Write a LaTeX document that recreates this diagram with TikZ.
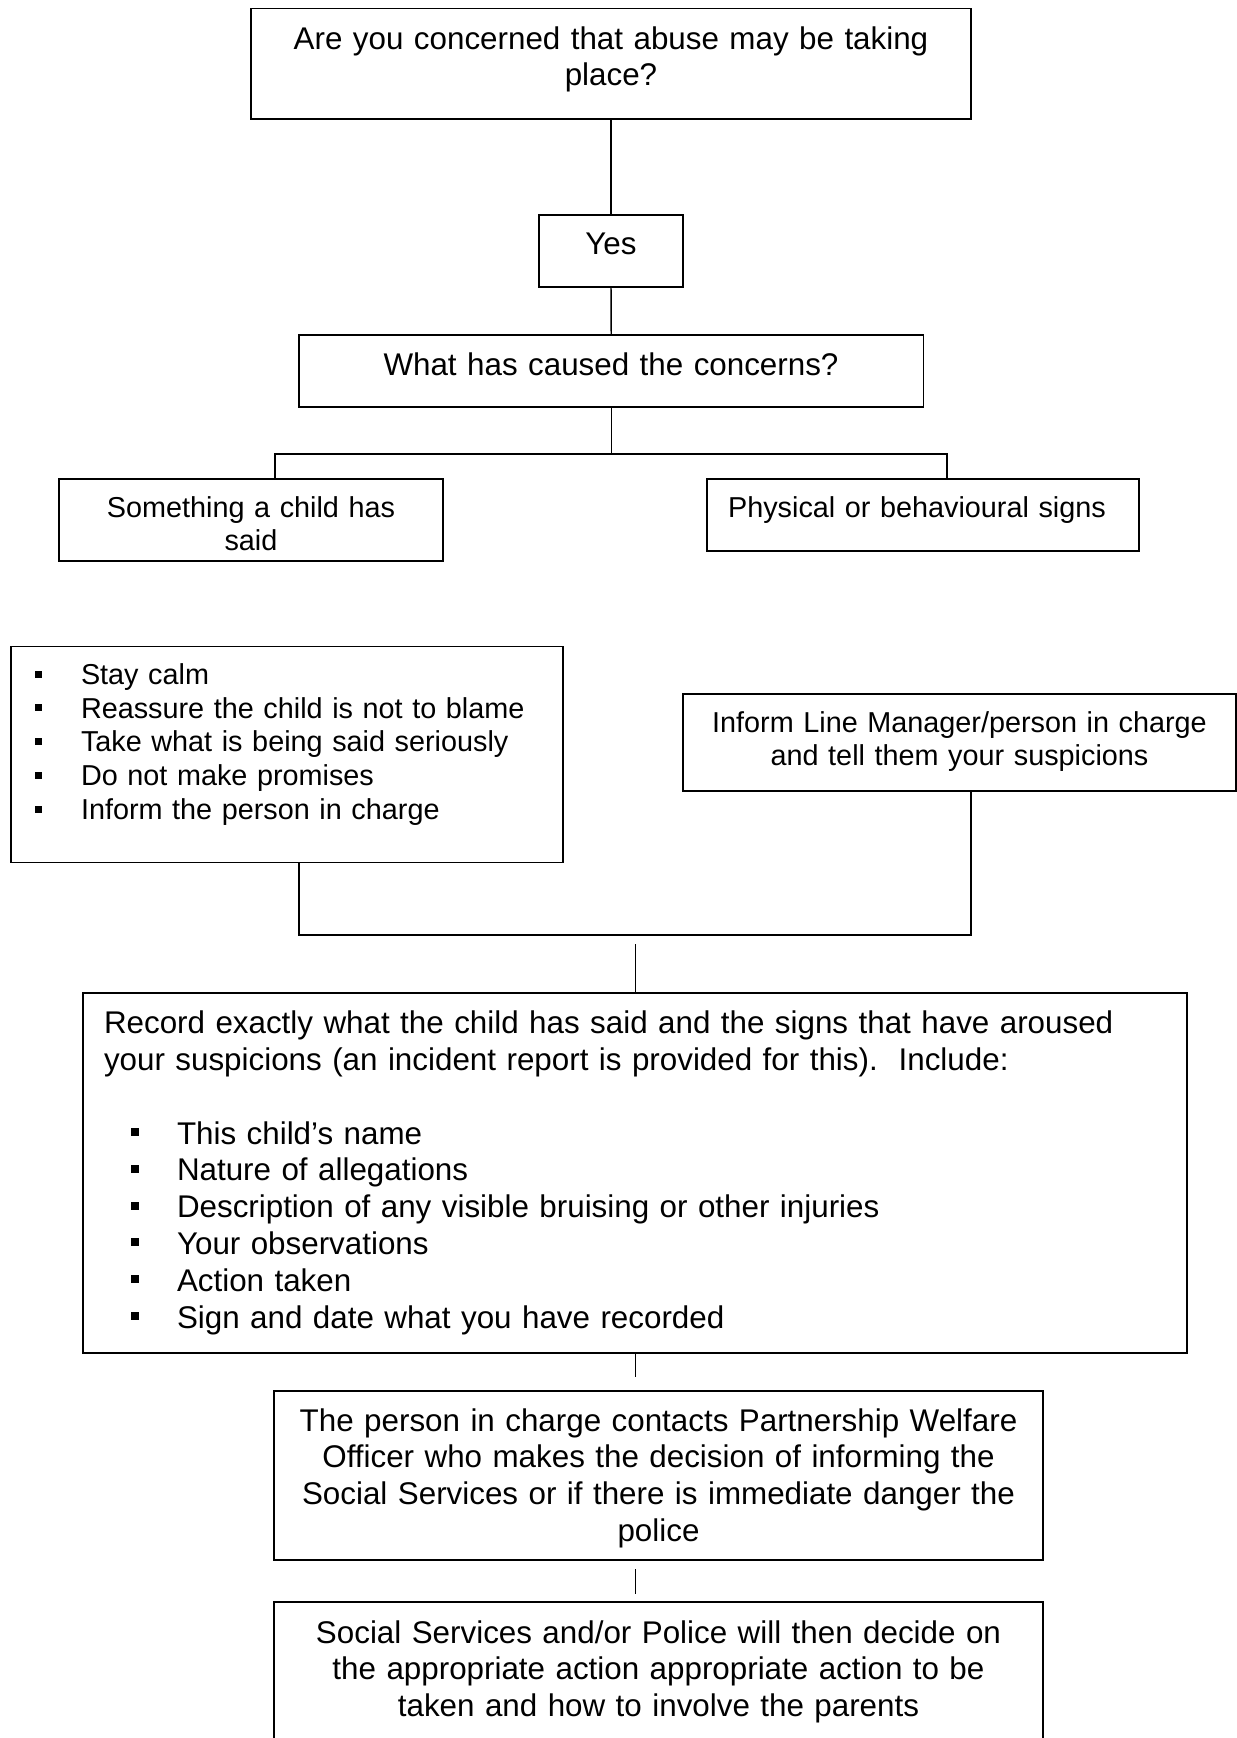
\documentclass[tikz,border=0pt]{standalone}
\usepackage{fontspec}
\setmainfont{Liberation Sans}
\usetikzlibrary{fit,calc}
\tikzset{
  box/.style={draw, line width=0.7pt, inner sep=0pt, outer sep=0pt},
  conn/.style={line width=0.55pt},
  gapline/.style={line width=0.35pt},
  twelve/.style={font=\fontsize{11.76}{13.8}\selectfont, inner sep=0pt, outer sep=0pt},
  eleven/.style={font=\fontsize{10.8}{12.65}\selectfont, inner sep=0pt, outer sep=0pt},
  ctext/.style={align=center, text width=420pt, anchor=base},
  ltext/.style={align=left, text width=420pt, anchor=base west},
}
\begin{document}
\begin{tikzpicture}[x=0.375pt, y=-0.375pt]
\useasboundingbox (0,0) rectangle (1237,1738);
\clip (0,0) rectangle (1237,1738);
\fill[white] (0,0) rectangle (1237,1738);

% boxes
\node[box, fit={(251,8.5) (971,119)}] (b1) {};
\node[box, fit={(539,215) (683,287)}] (yes) {};
\node[box, fit={(299,335) (923.5,407)}] (b3) {};
\node[box, fit={(59,479) (443,561)}] (b4) {};
\node[box, fit={(707,479) (1139,551)}] (b5) {};
\node[box, fit={(11,646.5) (563,862.5)}] (bl) {};
\node[box, fit={(683,694) (1236,791)}] (inf) {};
\node[box, fit={(83,993) (1187,1353)}] (rec) {};
\node[box, fit={(274,1391) (1043,1560)}] (pers) {};
\node[box, fit={(274,1602) (1043,1770)}] (soc) {};

% texts
\node[twelve, ctext] (t1) at (611,49) {Are you concerned that abuse may be taking\\place?};
\node[twelve, ctext] (tyes) at (611,254.5) {Yes};
\node[twelve, ctext] (t3) at (611,375) {What has caused the concerns?};
\node[eleven, ctext] (t4) at (251,517) {Something a child has\\said};
\node[eleven, ctext] (t5) at (917,517) {Physical or behavioural signs};
\node[eleven, ltext] (tbl) at (81,684.3) {Stay calm\\Reassure the child is not to blame\\Take what is being said seriously\\Do not make promises\\Inform the person in charge};
\node[eleven, ctext] (tinf) at (959.5,732) {Inform Line Manager/person in charge\\and tell them your suspicions};
\node[twelve, ltext, text width=440pt] (trec) at (104,1033.6) {Record exactly what the child has said and the signs that have aroused\\your suspicions (an incident report is provided for this).\ \ Include:};
\node[twelve, ltext] (trecl) at (177,1144) {This child’s name\\Nature of allegations\\Description of any visible bruising or other injuries\\Your observations\\Action taken\\Sign and date what you have recorded};
\node[twelve, ctext] (tpers) at (658.5,1431) {The person in charge contacts Partnership Welfare\\Officer who makes the decision of informing the\\Social Services or if there is immediate danger the\\police};
\node[twelve, ctext] (tsoc) at (658.5,1643) {Social Services and/or Police will then decide on\\the appropriate action appropriate action to be\\taken and how to involve the parents};

% bullets
\foreach \k in {0,...,4} \fill (35,{670.7+33.73*\k}) rectangle ++(7,7);
\foreach \k in {0,...,5} \fill (131,{1128+36.8*\k}) rectangle ++(8,8);

% connectors
\coordinate (cl) at (275,454);
\coordinate (cr) at (947,454);
\coordinate (ml) at (299,935);
\coordinate (mr) at (971,935);
\coordinate (g1) at (635,944);
\coordinate (g2) at (635,1377);
\coordinate (g3) at (635,1569);
\coordinate (g4) at (635,1594);

\draw[conn] (b1.south) -- (yes.north);
\draw[conn] (yes.south) -- (b3.north);
\draw[conn] (b3.south) -- (b3.south |- cl);
\draw[conn] (b4.north -| cl) -- (cl) -- (cr) -- (b5.north -| cr);
\draw[conn] (bl.south -| ml) -- (ml) -- (mr) -- (inf.south -| mr);
\draw[gapline] (g1) -- (rec.north -| g1);
\draw[gapline] (rec.south -| g2) -- (g2);
\draw[gapline] (g3) -- (g4);
\end{tikzpicture}
\end{document}
